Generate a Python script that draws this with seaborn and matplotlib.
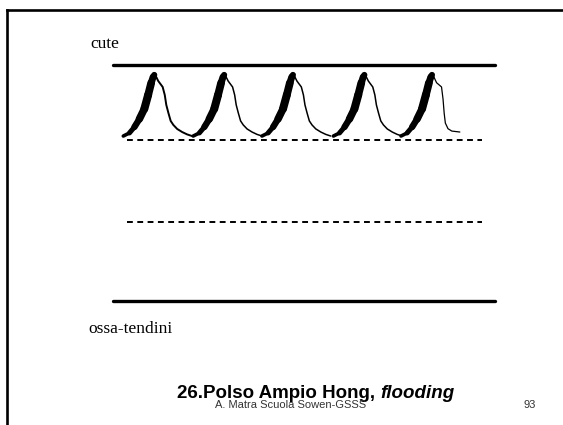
import matplotlib
matplotlib.use("Agg")
import matplotlib.pyplot as plt
import seaborn as sns
from matplotlib.collections import LineCollection

# Levels on a 0-100 scale: 0 = ossa-tendini line, 100 = cute (skin) line
skin_level = 100
bone_level = 0
dashed_levels = [68.2, 33.5]
solid_span = [0, 100]
dashed_span = [3.7, 96.6]

# Pulse wave: time of each peak and the shape of one beat around its peak
beat_peaks = [10.8, 29.1, 47.1, 65.8, 83.5]
rise_dt = [-8.1, -6.5, -5.2, -3.9, -2.6, -1.6, -0.8, -0.3, 0.0]
rise_y = [69.9, 71.2, 73.7, 77.1, 81.4, 87.3, 92.4, 94.9, 95.8]
rise_width = [2.6, 3.6, 4.6, 5.4, 5.8, 5.6, 5.0, 4.4]
fall_dt = [0.0, 0.4, 1.05, 2.2, 2.75, 3.15, 3.7, 4.3, 5.0, 6.0, 7.3, 8.6, 9.9]
fall_y = [95.8, 95.3, 93.2, 90.7, 87.3, 83.1, 79.7, 76.3, 74.6, 72.9, 71.6, 70.6, 69.9]
last_fall_dt = [0.0, 0.4, 1.2, 2.5, 2.9, 3.2, 3.5, 4.2, 5.2, 7.3]
last_fall_y = [95.8, 95.3, 92.5, 90.7, 85.5, 79.5, 75.4, 73.0, 72.0, 71.6]

sns.set_theme(style="white")
plt.rcParams["font.family"] = ["Liberation Sans", "DejaVu Sans"]
plt.rcParams["text.color"] = "black"

fig = plt.figure(figsize=(5.63, 4.25), dpi=100)

# background axes in pixel units for frame and texts
bg = fig.add_axes([0, 0, 1, 1])
bg.set_xlim(0, 563)
bg.set_ylim(425, 0)
bg.axis("off")
bg.plot([7, 563], [10, 10], color="black", lw=1.9, solid_capstyle="projecting")
bg.plot([7, 7], [10, 425], color="black", lw=1.9, solid_capstyle="projecting")

# drawing axes
ax = fig.add_axes([113 / 563, (425 - 301) / 425, 382 / 563, 236 / 425])
ax.set_xlim(solid_span)
ax.set_ylim(bone_level, skin_level)
ax.axis("off")

for lvl in [skin_level, bone_level]:
    sns.lineplot(x=solid_span, y=[lvl, lvl], color="black", lw=2.4,
                 ax=ax, clip_on=False)
for lvl in dashed_levels:
    sns.lineplot(x=dashed_span, y=[lvl, lvl], color="black", lw=1.4,
                 linestyle=(0, (3.0, 2.3)), ax=ax, clip_on=False)

for i, pk in enumerate(beat_peaks):
    xs = [pk + d for d in rise_dt]
    segs = [[(xs[j], rise_y[j]), (xs[j + 1], rise_y[j + 1])] for j in range(len(xs) - 1)]
    lc = LineCollection(segs, linewidths=rise_width, colors="black",
                        capstyle="round", joinstyle="round", clip_on=False)
    ax.add_collection(lc)
    if i == len(beat_peaks) - 1:
        fdt, fy, lw = last_fall_dt, last_fall_y, 0.9
    else:
        fdt, fy, lw = fall_dt, fall_y, (1.4 if i == 0 else 1.1)
    sns.lineplot(x=[pk + d for d in fdt], y=fy, sort=False, color="black",
                 lw=lw, ax=ax, clip_on=False)

# texts
serif = ["Liberation Serif", "DejaVu Serif"]
bg.text(90.7, 48, "cute", family=serif, fontsize=12.5, va="baseline")
bg.text(88, 333, "ossa-tendini", family=serif, fontsize=12.5, va="baseline")

t1 = bg.text(176.7, 398.5, "26.Polso Ampio Hong,", fontsize=13.5,
             fontweight="bold", va="baseline")
fig.canvas.draw()
bb = t1.get_window_extent()
x_end = bg.transData.inverted().transform((bb.x1, bb.y0))[0]
bg.text(x_end + 6, 398.5, "flooding", fontsize=13.5, fontweight="bold",
        fontstyle="italic", va="baseline")

bg.text(215, 408.5, "A. Matra Scuola Sowen-GSSS", fontsize=8, color="#333333",
        va="baseline")
bg.text(523, 408, "93", fontsize=8, color="#333333", va="baseline")

fig.savefig("out.png", dpi=100)
